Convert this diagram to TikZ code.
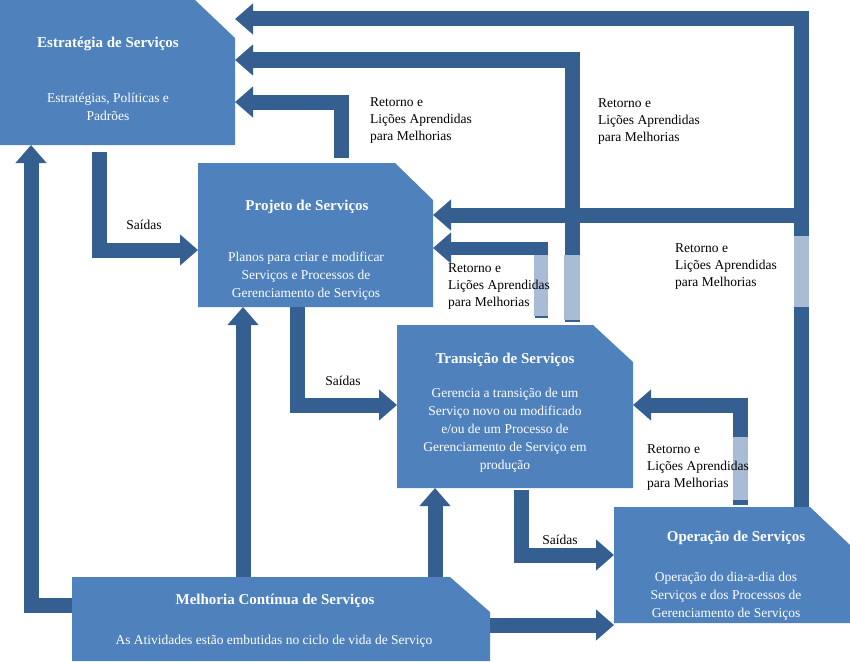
\documentclass[tikz,border=0pt]{standalone}
\usepackage{fontspec}
\setmainfont{Liberation Serif}
\usetikzlibrary{arrows.meta}
\definecolor{boxc}{HTML}{4F81BD}
\definecolor{arrc}{HTML}{365F91}
\definecolor{lightc}{HTML}{A9BCD6}
\begin{document}
\begin{tikzpicture}[x=1pt,y=-1pt,
  box/.style={fill=boxc,draw=none},
  band/.style={draw=arrc,line width=15pt,line join=miter},
  barr/.style={band,-{Triangle[width=30pt,length=18pt]}},
  light/.style={fill=lightc,draw=none},
  ttl/.style={text=white,font=\fontsize{15}{18}\selectfont\bfseries,align=center},
  sub/.style={text=white,font=\fontsize{13.5}{18}\selectfont,align=center},
  lbl/.style={font=\fontsize{13.5}{17}\selectfont,align=left,anchor=north west,inner sep=0},
  sai/.style={font=\fontsize{13.5}{17}\selectfont,inner sep=0}]
\useasboundingbox (0,0) rectangle (850,661);
% boxes
\fill[box] (0,0) -- (195,0) -- (235,38) -- (235,145) -- (0,145) -- cycle;
\fill[box] (198,163) -- (395,163) -- (433,200) -- (433,307) -- (198,307) -- cycle;
\fill[box] (397,325) -- (593,325) -- (633,362) -- (633,488) -- (397,488) -- cycle;
\fill[box] (614,507) -- (810,507) -- (850,545) -- (850,623) -- (614,623) -- cycle;
\fill[box] (72,577) -- (450,577) -- (490,612) -- (490,661) -- (72,661) -- cycle;
\node[ttl] (es) at (108,44) {Estratégia de Serviços};
\node[sub] (ess) at (108,107) {Estratégias, Políticas e\\Padrões};
\node[ttl] (ps) at (307,207) {Projeto de Serviços};
\node[sub] (pss) at (306,276) {Planos para criar e modificar\\Serviços e Processos de\\Gerenciamento de Serviços};
\node[ttl] (ts) at (505,360) {Transição de Serviços};
\node[sub] (tss) at (505,430) {Gerencia a transição de um\\Serviço novo ou modificado\\e/ou de um Processo de\\Gerenciamento de Serviço em\\produção};
\node[ttl] (os) at (736,538) {Operação de Serviços};
\node[sub] (oss) at (726,596) {Operação do dia-a-dia dos\\Serviços e dos Processos de\\Gerenciamento de Serviços};
\node[ttl] (ms) at (275,601) {Melhoria Contínua de Serviços};
\node[sub] (mss) at (274,641) {As Atividades estão embutidas no ciclo de vida de Serviço};
% feedback arrows
\coordinate (a1) at (801,507); \coordinate (a1e) at (235,19);
\draw[barr] (a1) -- (801,19) -- (a1e);
\coordinate (a2) at (572,322); \coordinate (a2e) at (235,60);
\draw[barr] (a2) -- (572,60) -- (a2e);
\coordinate (a3) at (341,158); \coordinate (a3e) at (235,102);
\draw[barr] (a3) -- (341,102) -- (a3e);
\coordinate (a4) at (808,215); \coordinate (a4e) at (433,215);
\draw[barr] (a4) -- (a4e);
\coordinate (a5) at (541,318); \coordinate (a5e) at (433,248);
\draw[barr,line width=13pt] (a5) -- (541,248) -- (a5e);
\coordinate (a6) at (740,505); \coordinate (a6e) at (633,405);
\draw[barr] (a6) -- (740,405) -- (a6e);
\fill[light] (794,236) rectangle (809,307);
\fill[light] (564,255) rectangle (580,320);
\fill[light] (534,255) rectangle (548,316);
\fill[light] (733,437) rectangle (748,500);
% outputs
\draw[barr] (99,152) -- (99,250) -- (198,250);
\draw[barr] (297,307) -- (297,405) -- (397,405);
\draw[barr] (521,490) -- (521,555) -- (614,555);
% improvement
\draw[barr] (72,605) -- (31,605) -- (31,145);
\draw[barr] (243,577) -- (243,307);
\draw[barr] (435,577) -- (435,488);
\draw[barr] (490,625) -- (614,625);
% labels
\node[lbl] (l1) at (370,97) {Retorno e\\Lições Aprendidas\\para Melhorias};
\node[lbl] (l2) at (598,98) {Retorno e\\Lições Aprendidas\\para Melhorias};
\node[lbl] (l3) at (448,263) {Retorno e\\Lições Aprendidas\\para Melhorias};
\node[lbl] (l4) at (675,243) {Retorno e\\Lições Aprendidas\\para Melhorias};
\node[lbl] (l5) at (647,444) {Retorno e\\Lições Aprendidas\\para Melhorias};
\node[sai] (s1) at (144,225) {Saídas};
\node[sai] (s2) at (343,381) {Saídas};
\node[sai] (s3) at (560,540) {Saídas};
\end{tikzpicture}
\end{document}
